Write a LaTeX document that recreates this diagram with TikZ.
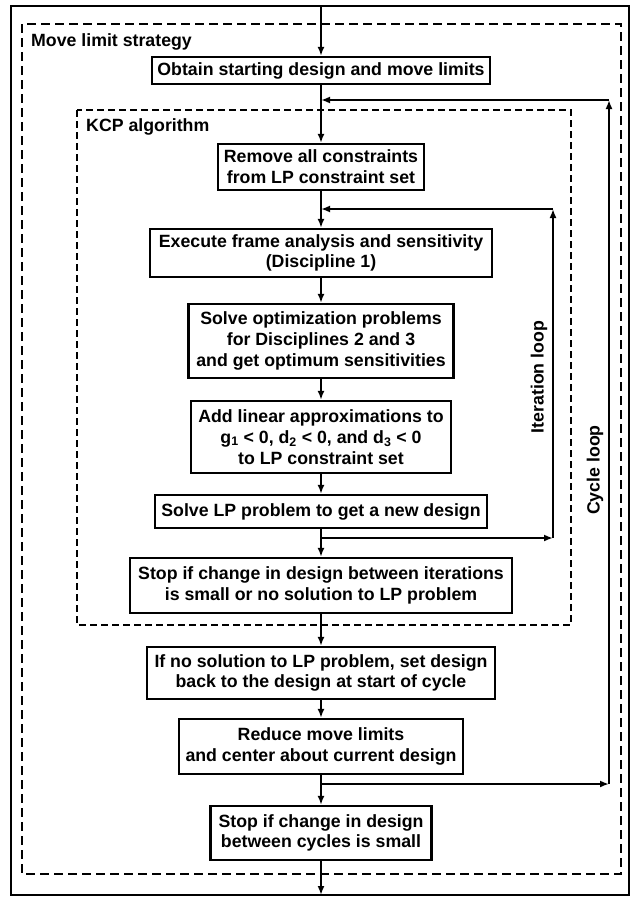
\documentclass[tikz,border=0pt]{standalone}
\usepackage{fontspec}
\setmainfont{Liberation Sans}
\usepackage{tikz}
\usetikzlibrary{arrows.meta}
\tikzset{
  stepbox/.style={draw,line width=2.3pt,fill=white,align=center,inner sep=1pt,
    font=\bfseries\fontsize{17.8}{20.8}\selectfont},
  flow/.style={-{Latex[length=9bp,width=7bp]},line width=1.8pt},
  grouplabel/.style={inner sep=0pt,font=\bfseries\fontsize{17.8}{20.8}\selectfont},
}

\begin{document}
\begin{tikzpicture}[x=1bp,y=-1bp]
\useasboundingbox (0,0) rectangle (634,897);
% frames
\draw[line width=2pt] (11,6) rectangle (629,895);
\draw[line width=2.2pt,dash pattern=on 9bp off 5bp] (22,24) rectangle (621,874);
\draw[line width=2pt,dash pattern=on 7bp off 4bp] (77,110) rectangle (571,625);
\node[grouplabel,anchor=west] (mls) at (31,42) {Move limit strategy};
\node[grouplabel,anchor=west] (kcp) at (86,127) {KCP algorithm};
% steps
\node[stepbox,minimum width=338bp,minimum height=27bp] (start) at (321,70.5) {Obtain starting design and move limits};
\node[stepbox,minimum width=206bp,minimum height=46bp] (remove) at (321,167) {Remove all constraints\\from LP constraint set};
\node[stepbox,minimum width=342bp,minimum height=48bp] (frame) at (321,253) {Execute frame analysis and sensitivity\\(Discipline 1)};
\node[stepbox,minimum width=265bp,minimum height=74bp] (subopt) at (321,341) {Solve optimization problems\\for Disciplines 2 and 3\\and get optimum sensitivities};
\node[stepbox,minimum width=260bp,minimum height=72bp] (addlin) at (321,437) {Add linear approximations to\\g\textsubscript{1} < 0, d\textsubscript{2} < 0, and d\textsubscript{3} < 0\\to LP constraint set};
\node[stepbox,minimum width=332bp,minimum height=33bp] (lpsolve) at (321,511.5) {Solve LP problem to get a new design};
\node[stepbox,minimum width=382bp,minimum height=55bp] (itstop) at (321,585.5) {Stop if change in design between iterations\\is small or no solution to LP problem};
\node[stepbox,minimum width=348bp,minimum height=52bp] (reset) at (321,673) {If no solution to LP problem, set design\\back to the design at start of cycle};
\node[stepbox,minimum width=284bp,minimum height=55bp] (reduce) at (321,746.5) {Reduce move limits\\and center about current design};
\node[stepbox,minimum width=221bp,minimum height=54bp] (cystop) at (321,833) {Stop if change in design\\between cycles is small};
% loop labels
\node[grouplabel,rotate=90] (itlab) at (539,377) {Iteration loop};
\node[grouplabel,rotate=90] (cylab) at (595,470) {Cycle loop};
% ends and corners
\coordinate (top) at (321,6);
\coordinate (bot) at (321,895);
\coordinate (cyc) at (321,100);
\coordinate (cycR) at (609,100);
\coordinate (cycB) at (321,784);
\coordinate (cycBR) at (609,784);
\coordinate (itr) at (321,209);
\coordinate (itrR) at (553,209);
\coordinate (itrB) at (321,538);
\coordinate (itrBR) at (553,538);
% main flow
\draw[flow] (top) -- (start);
\draw[flow] (start) -- (remove);
\draw[flow] (remove) -- (frame);
\draw[flow] (frame) -- (subopt);
\draw[flow] (subopt) -- (addlin);
\draw[flow] (addlin) -- (lpsolve);
\draw[flow] (lpsolve) -- (itstop);
\draw[flow] (itstop) -- (reset);
\draw[flow] (reset) -- (reduce);
\draw[flow] (reduce) -- (cystop);
\draw[flow] (cystop) -- (bot);
% iteration loop
\draw[flow] (itrB) -- (itrBR);
\draw[flow] (itrBR) -- (itrR);
\draw[flow] (itrR) -- (itr);
% cycle loop
\draw[flow] (cycB) -- (cycBR);
\draw[flow] (cycBR) -- (cycR);
\draw[flow] (cycR) -- (cyc);
\end{tikzpicture}
\end{document}
